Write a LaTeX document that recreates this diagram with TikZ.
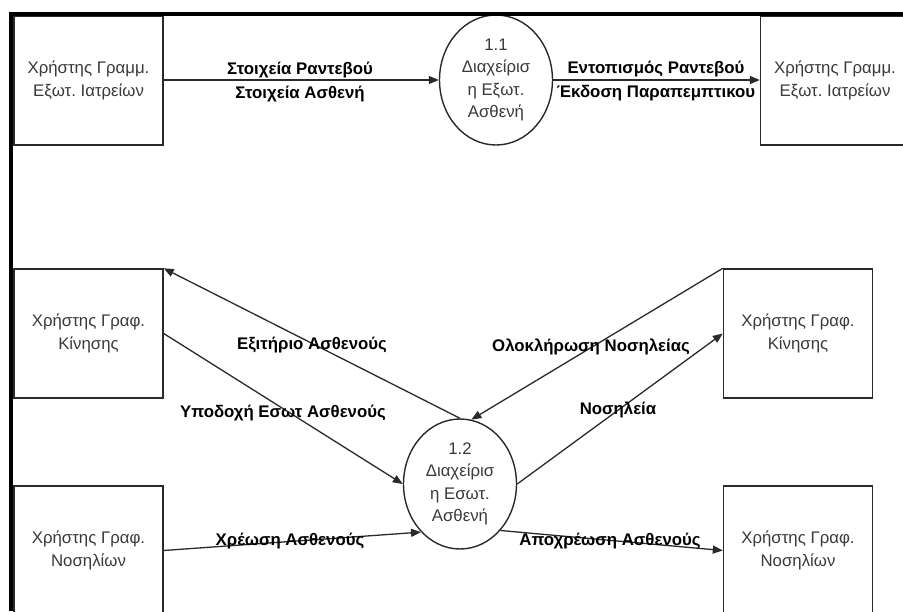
\documentclass[tikz,border=0pt]{standalone}
\usepackage{fontspec}
\setmainfont{Liberation Sans}
\usetikzlibrary{arrows.meta,shapes.geometric}
\frenchspacing

\definecolor{ink}{HTML}{2A2A2A}
\definecolor{boxtext}{HTML}{3A3A3A}

\tikzset{
  entity/.style={draw=ink, line width=1.4pt, rectangle, inner sep=0pt,
    minimum width=149pt, minimum height=129pt, align=center,
    text=boxtext, font=\fontsize{16.8}{22.5}\selectfont},
  process/.style={draw=ink, line width=1.4pt, ellipse, inner sep=0pt,
    minimum width=113pt, minimum height=130pt, align=center,
    text=boxtext, font=\fontsize{16.8}{22.5}\selectfont},
  flow/.style={draw=ink, line width=1.3pt,
    -{Triangle[length=10pt,width=8pt]}},
  flowlabel/.style={inner sep=0pt, text=black, align=center,
    font=\bfseries\fontsize{16.8}{23.5}\selectfont}
}

\begin{document}
\begin{tikzpicture}[x=1pt,y=-1pt]
  \useasboundingbox (0,0) rectangle (903,611);
  \fill[white] (0,0) rectangle (903,611);
  \clip (0,0) rectangle (903,611);

  % external entities
  \node[entity] (b1) at (88.5,80.5)  {Χρήστης Γραμμ.\\Εξωτ. Ιατρείων};
  \node[entity] (b2) at (835,80.5)   {Χρήστης Γραμμ.\\Εξωτ. Ιατρείων};
  \node[entity] (b3) at (88.5,333.5) {Χρήστης Γραφ.\\Κίνησης};
  \node[entity] (b4) at (798,333.5)  {Χρήστης Γραφ.\\Κίνησης};
  \node[entity] (b5) at (88.5,550.5) {Χρήστης Γραφ.\\Νοσηλίων};
  \node[entity] (b6) at (798,550.5)  {Χρήστης Γραφ.\\Νοσηλίων};

  % processes
  \node[process] (p1) at (496,80)  {1.1\\Διαχείρισ\\η Εξωτ.\\Ασθενή};
  \node[process] (p2) at (460,484) {1.2\\Διαχείρισ\\η Εσωτ.\\Ασθενή};

  % data flows
  \draw[flow] (b1.east |- p1.west) -- (p1.west);
  \draw[flow] (p1.east) -- (b2.west |- p1.east);
  \draw[flow] (p2.north) -- (b3.north east);
  \draw[flow] (b3.east) -- (p2.west);
  \draw[flow] (b4.north west) -- (p2.80);
  \draw[flow] (p2.east) -- (b4.west);
  \draw[flow] (b5.east) -- (p2.231);
  \draw[flow] (p2.311) -- (b6.west);

  % flow labels
  \node[flowlabel] (l1) at (300,82) {Στοιχεία Ραντεβού\\Στοιχεία Ασθενή};
  \node[flowlabel] (l2) at (656,81) {Εντοπισμός Ραντεβού\\Έκδοση Παραπεμπτικου};
  \node[flowlabel] (l3) at (312,345) {Εξιτήριο Ασθενούς};
  \node[flowlabel] (l4) at (283,413) {Υποδοχή Εσωτ Ασθενούς};
  \node[flowlabel] (l5) at (591,347) {Ολοκλήρωση Νοσηλείας};
  \node[flowlabel] (l6) at (618,410) {Νοσηλεία};
  \node[flowlabel] (l7) at (290,541) {Χρέωση Ασθενούς};
  \node[flowlabel] (l8) at (610,541) {Αποχρέωση Ασθενούς};

  % page frame
  \draw[black, line width=4pt] (11,611) -- (11,14) -- (903,14);
\end{tikzpicture}
\end{document}
